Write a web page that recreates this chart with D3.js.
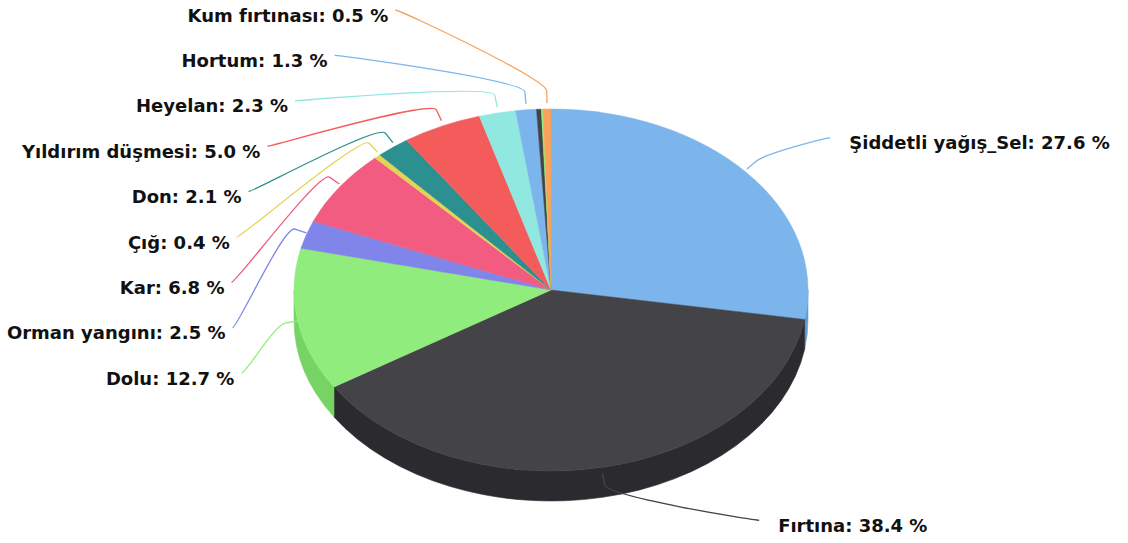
<!DOCTYPE html>
<html>
<head>
<meta charset="utf-8">
<script src="https://cdn.jsdelivr.net/npm/d3@7"></script>
<style>
  html, body { margin: 0; padding: 0; background: #ffffff; }
  svg text { font-family: "DejaVu Sans", "Noto Sans", sans-serif; font-weight: bold; }
</style>
</head>
<body>
<svg id="chart" width="1128" height="543"></svg>
<script>
// Afet türlerine göre dağılım (%)
const categories = [
  "Şiddetli yağış_Sel", "Fırtına", "Dolu", "Orman yangını", "Kar", "Çığ",
  "Don", "Yıldırım düşmesi", "Heyelan", "Hortum", "Diğer 1", "Diğer 2", "Kum fırtınası"
];
const values = [27.6, 38.4, 12.7, 2.5, 6.8, 0.4, 2.1, 5.0, 2.3, 1.3, 0.3, 0.1, 0.5];
const showLabel = [true, true, true, true, true, true, true, true, true, true, false, false, true];
const colors = [
  "#7cb5ec", "#434348", "#90ed7d", "#8085e9", "#f15c80", "#e4d354",
  "#2b908f", "#f45b5b", "#91e8e1", "#7cb5ec", "#434348", "#90ed7d", "#f7a35c"
];

const slices = categories.map((name, i) => ({ name, value: values[i], color: colors[i], label: showLabel[i] }));

// Geometry of the tilted pie
const cx = 551, cy = 290, rx = 257, ry = 181, depth = 30;
const squash = ry / rx;
const svg = d3.select("#chart");

const pie = d3.pie().sort(null).value(d => d.value).startAngle(0).endAngle(2 * Math.PI);
const arcs = pie(slices);

const arc = d3.arc().innerRadius(0).outerRadius(rx);

// Darken a colour the way a 3D side face is shaded
function sideColor(c) {
  const col = d3.rgb(c);
  return d3.rgb(Math.max(0, col.r - 25.5), Math.max(0, col.g - 25.5), Math.max(0, col.b - 25.5)).toString();
}

const pieG = svg.append("g")
  .attr("transform", `translate(${cx},${cy}) scale(1,${squash})`);

// Outer side walls: only the front half (angles 90°..270° from the top) is visible
const D = depth / squash;
const sides = [];
arcs.forEach(a => {
  const s = Math.max(a.startAngle, Math.PI / 2);
  const e = Math.min(a.endAngle, 3 * Math.PI / 2);
  if (e > s) sides.push({ s, e, color: a.data.color });
});
pieG.selectAll("path.side").data(sides).join("path")
  .attr("class", "side")
  .attr("d", d => {
    const p = d3.path();
    const s = d.s - Math.PI / 2, e = d.e - Math.PI / 2;
    p.moveTo(rx * Math.cos(s), rx * Math.sin(s));
    p.arc(0, 0, rx, s, e, false);
    p.lineTo(rx * Math.cos(e), rx * Math.sin(e) + D);
    p.arc(0, D, rx, e, s, true);
    p.closePath();
    return p.toString();
  })
  .attr("fill", d => sideColor(d.color))
  .attr("stroke", d => sideColor(d.color))
  .attr("stroke-width", 0.6)
  .attr("vector-effect", "non-scaling-stroke");

// Top faces
pieG.selectAll("path.top").data(arcs).join("path")
  .attr("class", "top")
  .attr("d", arc)
  .attr("fill", d => d.data.color)
  .attr("stroke", d => d.data.color)
  .attr("stroke-width", 0.5)
  .attr("vector-effect", "non-scaling-stroke");

// Data labels with connectors
const labelled = arcs.filter(a => a.data.label).map(a => {
  const mid = (a.startAngle + a.endAngle) / 2;
  return { a, mid, left: mid > Math.PI };
});

// Label anchor curve around the pie
const A = 320, yc = 300, Btop = 332, Bbot = 290;
function anchorX(y, left) {
  const B = y < yc ? Btop : Bbot;
  const t = (y - yc) / B;
  const w = A * Math.sqrt(Math.max(0, 1 - t * t));
  return left ? cx - w : cx + w;
}

// Left side: stacked from the top in angle order
const leftLabels = labelled.filter(d => d.left).sort((p, q) => q.mid - p.mid);
const leftTop = 10, leftStep = 45.4;
leftLabels.forEach((d, i) => { d.y = leftTop + i * leftStep; });
// Right side: natural position from the slice angle
const labelRadiusY = 235;
labelled.filter(d => !d.left).forEach(d => { d.y = cy - labelRadiusY * Math.cos(d.mid); });

labelled.forEach(d => {
  d.x = anchorX(d.y, d.left);
  d.touch = [cx + rx * Math.sin(d.mid), cy - (ry + 6) * Math.cos(d.mid)];
  d.brk = [d.touch[0] + 12 * Math.sin(d.mid), d.touch[1] - 12 * Math.cos(d.mid)];
});

const labG = svg.append("g");
labG.selectAll("path.connector").data(labelled).join("path")
  .attr("class", "connector")
  .attr("d", d => {
    const p = d3.path();
    p.moveTo(d.x, d.y);
    p.bezierCurveTo(d.x + (d.left ? 5 : -5), d.y,
      2 * d.brk[0] - d.touch[0], 2 * d.brk[1] - d.touch[1],
      d.brk[0], d.brk[1]);
    p.lineTo(d.touch[0], d.touch[1]);
    return p.toString();
  })
  .attr("fill", "none")
  .attr("stroke", d => d.a.data.color)
  .attr("stroke-width", 1.3);

labG.selectAll("text.label").data(labelled).join("text")
  .attr("class", "label")
  .attr("x", d => d.left ? d.x - 7 : d.x + 19)
  .attr("y", d => d.y + 5)
  .attr("dominant-baseline", "central")
  .attr("text-anchor", d => d.left ? "end" : "start")
  .attr("font-size", 18)
  .attr("fill", "#111111")
  .text(d => `${d.a.data.name}: ${d.a.data.value.toFixed(1)} %`);
</script>
</body>
</html>
